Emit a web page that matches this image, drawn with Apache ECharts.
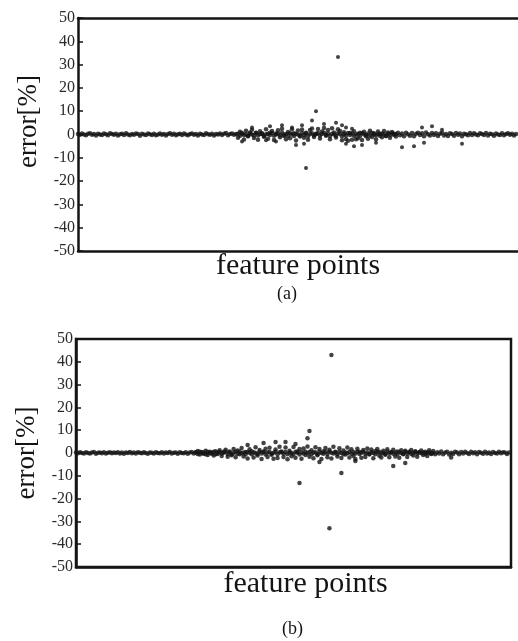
<!DOCTYPE html>
<html>
<head>
<meta charset="utf-8">
<script src="https://cdn.jsdelivr.net/npm/echarts@6/dist/echarts.min.js"></script>
<style>
html, body { margin: 0; padding: 0; background: #fff; }
#chart { width: 518px; height: 641px; }
</style>
</head>
<body>
<div id="chart"></div>
<script>
// tick labels of the error axis
var yTicks = [-50, -40, -30, -20, -10, 0, 10, 20, 30, 40, 50];

// (a) dense band of feature points, one value per point
var errA = [
  0.2,-0.1,0.4,0.0,-0.3,0.3,0.5,-0.1,0.2,-0.4,0.3,0.0,-0.2,0.4,0.1,-0.3,0.5,0.2,-0.1,0.3,
  -0.4,0.1,0.3,-0.2,0.5,0.0,-0.3,0.2,-0.1,0.4,0.2,-0.5,0.3,0.0,-0.2,0.4,0.1,-0.2,0.3,-0.3,
  0.0,0.4,-0.1,0.2,-0.4,0.2,0.5,-0.1,0.3,-0.3,0.1,0.3,-0.2,0.4,0.0,-0.3,0.2,0.4,-0.1,0.2,
  -0.4,0.3,0.0,-0.2,0.5,0.1,-0.1,0.3,-0.4,0.2,0.0,0.4,-0.2,0.3,0.6,-0.3,0.2,0.4,-0.1,0.2,
  -1.4,1.2,0.3,-2.1,1.6,-0.8,0.9,2.0,-1.5,0.6,-2.3,1.4,0.2,-1.0,2.2,-1.8,0.7,1.5,-2.4,0.4,
  1.8,-1.2,2.5,-0.6,-2.0,1.1,-1.6,2.3,0.5,-2.6,1.7,-0.9,2.1,-1.4,0.8,-2.2,1.9,2.6,-1.1,0.3,
  2.4,-1.7,1.3,2.8,-0.5,1.9,-2.0,2.7,0.9,-1.3,2.2,1.5,-2.5,1.0,-1.9,-2.7,0.6,-2.3,1.4,-2.0,
  -1.6,0.8,-2.4,1.2,-0.7,-1.8,1.6,-1.1,0.5,-2.0,1.3,0.2,-1.2,1.5,-0.6,0.9,-1.4,1.1,0.3,-0.9,
  0.7,-0.3,0.4,-0.8,0.8,0.1,-0.5,0.6,-0.7,0.3,0.8,-0.2,0.5,-0.7,0.9,0.1,-0.4,0.6,-0.2,0.5,
  -0.6,0.3,0.7,-0.4,0.2,-0.6,0.5,0.2,-0.5,0.6,-0.1,0.4,-0.7,0.3,0.1,-0.3,0.6,-0.2,0.5,0.0,
  -0.3,0.5,0.2,-0.2,0.6,-0.4,0.3,0.1,-0.5,0.4,0.0,-0.2,0.5,-0.3,0.2,0.5,-0.1,0.3,-0.4,0.2
];
// (a) extra points packed near zero in the busy stretch, starting at index 80
var coreStartA = 80;
var coreA = [
  0.3,-0.5,0.6,-0.2,0.1,-0.6,0.4,0.0,-0.3,0.7,-0.4,0.2,0.5,-0.6,0.1,0.3,-0.2,0.6,-0.5,0.0,
  0.4,-0.3,0.7,-0.1,0.2,-0.5,0.5,0.1,-0.6,0.3,0.0,-0.4,0.6,-0.2,0.4,-0.7,0.2,0.5,-0.3,0.1,
  0.6,-0.4,0.2,0.7,-0.1,0.4,-0.6,0.3,0.0,-0.5,0.5,0.2,-0.7,0.1,-0.3,0.6,-0.2,0.4,-0.5,0.0,
  0.3,-0.6,0.5,0.1,-0.2,0.4,-0.4,0.6,0.0,-0.3,0.2,-0.5,0.4,0.1,-0.6,0.3,-0.1,0.5,-0.2,0.2
];
// (a) scattered points [feature index, error %]
var outA = [
  [130,33.3],[119,10],[117,6],[87,3],[96,3.5],[102,4],[107,3],[112,4],[123,4.5],[129,5],
  [132,4],[134,3],[137,2.5],[172,3],[177,3.5],[182,2],[82,-3],[94,-2.5],[99,-3],[109,-4.5],
  [113,-4],[134,-4],[138,-5],[142,-4.5],[149,-3.5],[162,-5.5],[168,-5],[173,-3.5],[192,-4],
  [114,-14.4]
];

// (b) dense band
var errB = [
  0.2,-0.1,0.3,0.0,-0.2,0.3,0.0,-0.2,0.2,0.4,-0.3,0.1,0.2,-0.1,0.3,-0.2,0.1,0.3,-0.1,0.2,
  0.0,0.3,-0.2,0.2,-0.3,0.2,0.0,0.4,-0.1,0.2,-0.2,0.3,0.1,-0.1,0.3,0.0,-0.3,0.2,0.1,-0.2,
  0.3,0.0,-0.1,0.3,-0.2,0.2,0.0,0.4,-0.2,0.1,0.2,-0.3,0.3,0.0,-0.1,0.3,-0.3,0.2,0.4,-0.2,
  0.2,0.9,-0.7,0.4,-0.3,1.0,-0.9,0.6,0.2,-1.1,0.8,-0.4,1.2,-1.3,0.5,1.4,-1.6,0.7,-1.0,1.8,
  -1.9,1.1,-0.6,2.2,-1.5,0.4,-2.4,1.6,0.8,-2.0,2.5,-1.1,1.3,-2.6,0.6,1.9,-1.7,2.3,-0.8,-2.5,
  1.5,-2.2,2.7,0.3,-1.8,2.4,-2.7,1.0,-1.4,2.6,-2.1,0.7,1.8,-2.5,2.0,-0.9,2.8,-1.6,1.2,-2.3,
  2.5,-1.0,1.7,-2.6,0.8,2.2,-1.9,1.4,-2.4,2.7,0.5,-1.5,2.1,-2.2,1.1,-0.7,2.4,-2.0,1.6,-1.3,
  -2.6,1.9,0.6,-2.1,1.3,-1.7,2.0,-0.5,1.5,-2.3,0.9,1.8,-1.2,-2.0,1.0,-0.8,1.6,-1.9,0.4,1.4,
  -1.5,0.7,-2.1,1.2,-0.6,1.0,-1.8,0.5,1.3,-1.1,0.8,-1.6,0.3,1.1,-0.9,0.6,-1.3,1.2,-0.4,0.9,
  -0.6,0.3,-0.2,0.7,-0.5,0.2,0.6,-0.7,0.1,-0.4,0.6,0.2,-0.5,0.4,-0.2,0.5,0.0,-0.4,0.6,-0.1,
  0.3,-0.5,0.4,0.1,-0.3,0.5,-0.2,0.2,-0.4,0.4,0.0,-0.2,0.5,-0.1,0.3,0.2,-0.4,0.2
];
var coreStartB = 60;
var coreB = [
  0.3,-0.4,0.5,-0.1,0.2,-0.6,0.4,0.0,-0.3,0.6,-0.5,0.2,0.4,-0.2,0.1,0.5,-0.4,0.3,-0.6,0.0,
  0.5,-0.3,0.7,-0.1,0.2,-0.5,0.4,0.1,-0.6,0.3,0.0,-0.4,0.6,-0.2,0.5,-0.7,0.2,0.4,-0.3,0.1,
  0.6,-0.5,0.3,0.7,-0.2,0.4,-0.6,0.2,0.0,-0.4,0.5,0.1,-0.7,0.3,-0.2,0.6,-0.1,0.4,-0.5,0.2,
  0.3,-0.6,0.5,0.0,-0.3,0.4,-0.4,0.7,0.1,-0.2,0.3,-0.5,0.6,0.0,-0.6,0.2,-0.1,0.5,-0.3,0.4,
  -0.2,0.6,-0.4,0.1,0.5,-0.3,0.2,-0.6,0.4,0.0,-0.5,0.3,0.6,-0.2,0.1,-0.4,0.5,-0.1,0.3,-0.3,
  0.2,-0.5,0.4,0.0,-0.3,0.5,-0.2,0.3,-0.4,0.1,0.4,-0.2,0.3,-0.1,0.2,-0.3,0.1,0.2,-0.2,0.0
];
var outB = [
  [128,43],[117,9.6],[116,6.5],[86,3.5],[94,4.4],[100,4.8],[105,4.8],[110,3.9],
  [122,-4],[140,-3.5],[159,-5.7],[165,-4.4],[188,-2],[133,-8.8],[112,-13.2],[127,-33]
];

var serif = 'Liberation Serif';
var ink = '#141414';

function band(arr, start) {
  return arr.map(function (v, i) { return [start + i, v]; });
}

function yAxisOf(gridIndex, shift) {
  return {
    type: 'value', gridIndex: gridIndex,
    min: yTicks[0], max: yTicks[yTicks.length - 1], interval: 10,
    name: 'error[%]', nameLocation: 'middle', nameGap: 36,
    nameTextStyle: { fontFamily: serif, fontSize: 27, color: ink, padding: [0, 0, 0, shift] },
    axisLine: { show: true, lineStyle: { color: ink, width: 2.5 } },
    axisTick: { show: true, inside: true, length: 5, lineStyle: { color: ink, width: 1.5 } },
    axisLabel: { fontFamily: serif, fontSize: 16, color: '#2a2a2a', margin: 3 },
    splitLine: { show: false }
  };
}

function xAxisOf(gridIndex, maxX, gap, shift) {
  return {
    type: 'value', gridIndex: gridIndex, min: 0, max: maxX,
    name: 'feature points', nameLocation: 'middle', nameGap: gap,
    nameTextStyle: { fontFamily: serif, fontSize: 30, color: ink, padding: [0, 0, 0, shift] },
    axisLine: { show: true, onZero: false, lineStyle: { color: ink, width: 2.5 } },
    axisTick: { show: false },
    axisLabel: { show: false },
    splitLine: { show: false }
  };
}

// frame line along the top of (a); its right side runs off the page
var topLineA = {
  type: 'value', gridIndex: 0, position: 'top', min: 0, max: 220,
  axisLine: { show: true, onZero: false, lineStyle: { color: ink, width: 2.5 } },
  axisTick: { show: false }, axisLabel: { show: false }, splitLine: { show: false }
};

var chart = echarts.init(document.getElementById('chart'));
var option = {
  backgroundColor: '#fff',
  animation: false,
  title: [
    { text: '(a)', left: 277, top: 285, textStyle: { fontFamily: serif, fontSize: 18, fontWeight: 'normal', color: ink }, padding: 0 },
    { text: '(b)', left: 282, top: 620, textStyle: { fontFamily: serif, fontSize: 18, fontWeight: 'normal', color: ink }, padding: 0 }
  ],
  grid: [
    { left: 78, top: 18, width: 440, height: 233 },
    { left: 76, top: 339, width: 435, height: 228, show: true, borderColor: ink, borderWidth: 2.5 }
  ],
  xAxis: [xAxisOf(0, 220, 0, 0), xAxisOf(1, 218, 2, 24), topLineA],
  yAxis: [yAxisOf(0, 26), yAxisOf(1, 0)],
  series: [
    { type: 'scatter', xAxisIndex: 0, yAxisIndex: 0, symbolSize: 4.5, itemStyle: { color: ink }, data: band(errA, 0) },
    { type: 'scatter', xAxisIndex: 0, yAxisIndex: 0, symbolSize: 4.5, itemStyle: { color: ink }, data: band(coreA, coreStartA) },
    { type: 'scatter', xAxisIndex: 0, yAxisIndex: 0, symbolSize: 4, itemStyle: { color: ink }, data: outA },
    { type: 'scatter', xAxisIndex: 1, yAxisIndex: 1, symbolSize: 4.5, itemStyle: { color: ink }, data: band(errB, 0) },
    { type: 'scatter', xAxisIndex: 1, yAxisIndex: 1, symbolSize: 4.5, itemStyle: { color: ink }, data: band(coreB, coreStartB) },
    { type: 'scatter', xAxisIndex: 1, yAxisIndex: 1, symbolSize: 4.5, itemStyle: { color: ink }, data: outB }
  ]
};
chart.setOption(option);
window.addEventListener('resize', function () {
  chart.resize();
});
</script>
</body>
</html>
